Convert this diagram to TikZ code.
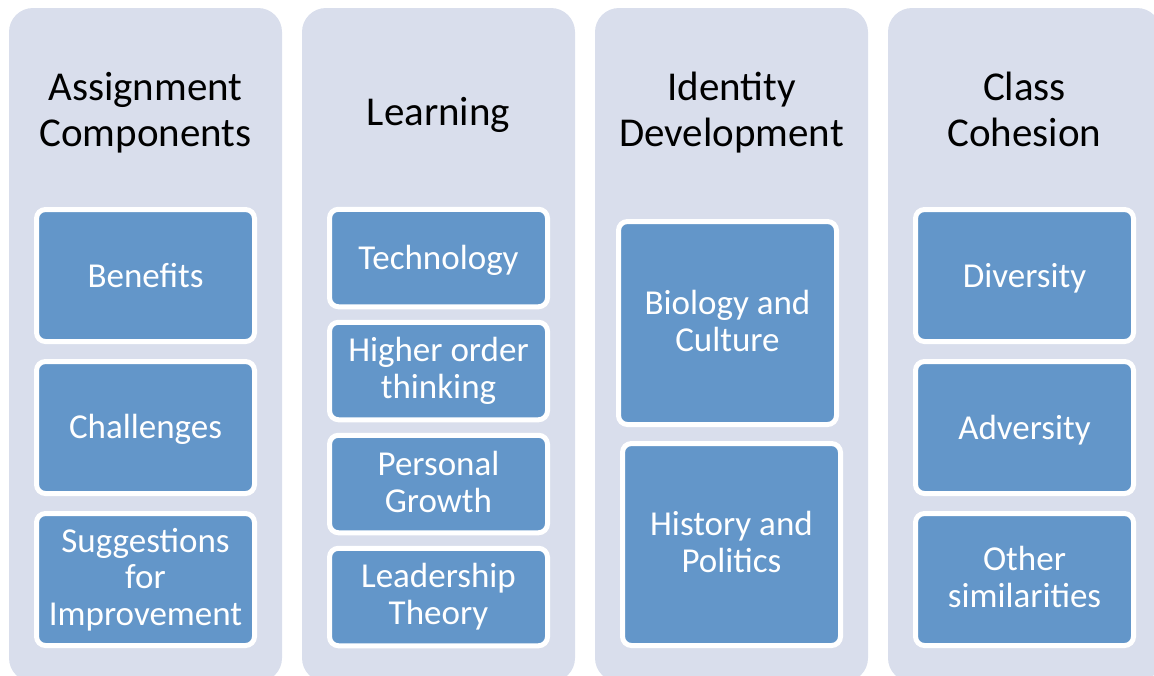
\documentclass[tikz,border=0pt]{standalone}
\usepackage{fontspec}
\setmainfont{Carlito}
\usetikzlibrary{positioning}
\definecolor{panelgray}{RGB}{217,222,236}
\definecolor{itemblue}{RGB}{99,150,201}

\begin{document}
\begin{tikzpicture}[x=1pt,y=-1pt,
  panel/.style={fill=panelgray,rounded corners=24pt},
  head/.style={font=\fontsize{41}{46}\selectfont,align=center,inner sep=0pt,
    execute at begin node=\rule{0pt}{32pt},execute at end node=\rule[-8pt]{0pt}{8pt}},
  item/.style={draw=white,line width=5pt,fill=itemblue,rounded corners=9pt,text=white,
    minimum width=218pt,align=center,inner sep=0pt,outer sep=0pt,font=\fontsize{35}{36.7}\selectfont,
    execute at begin node=\rule{0pt}{29pt},execute at end node=\rule[-5pt]{0pt}{5pt}},
  big/.style={item,minimum height=132pt},
  small/.style={item,minimum height=97.5pt},
  node distance=20pt]
\useasboundingbox (0,0) rectangle (1154,675);
\clip (0,0) rectangle (1154,675);

\fill[panel] (9,8) rectangle (282,682);
\fill[panel] (302,8) rectangle (575,682);
\fill[panel] (595,8) rectangle (868,682);
\fill[panel] (888,8) rectangle (1161,682);

\node[head] (hassign) at (145.5,113.5) {Assignment\\Components};
\node[head] (hlearn) at (438.5,113.5) {Learning};
\node[head] (hident) at (731.5,113.5) {Identity\\Development};
\node[head] (hclass) at (1024.5,113.5) {Class\\Cohesion};

\node[big] (benefits) at (145.5,275.5) {Benefits};
\node[big,below=of benefits] (challenges) {Challenges};
\node[big,below=of challenges] (suggest) {Suggestions\\for\\Improvement};

\node[small] (tech) at (438.5,258) {Technology};
\node[small,below=15.5pt of tech] (higher) {Higher order\\thinking};
\node[small,below=15.5pt of higher] (growth) {Personal\\Growth};
\node[small,below=15.5pt of growth] (leader) {Leadership\\Theory};

\node[item,minimum height=203pt] (biology) at (727.5,323) {Biology and\\Culture};
\node[item,minimum height=202pt] (history) at (731.5,544.5) {History and\\Politics};

\node[big] (diversity) at (1024.5,275.5) {Diversity};
\node[big,below=of diversity] (adversity) {Adversity};
\node[big,below=of adversity] (other) {Other\\similarities};
\end{tikzpicture}
\end{document}
